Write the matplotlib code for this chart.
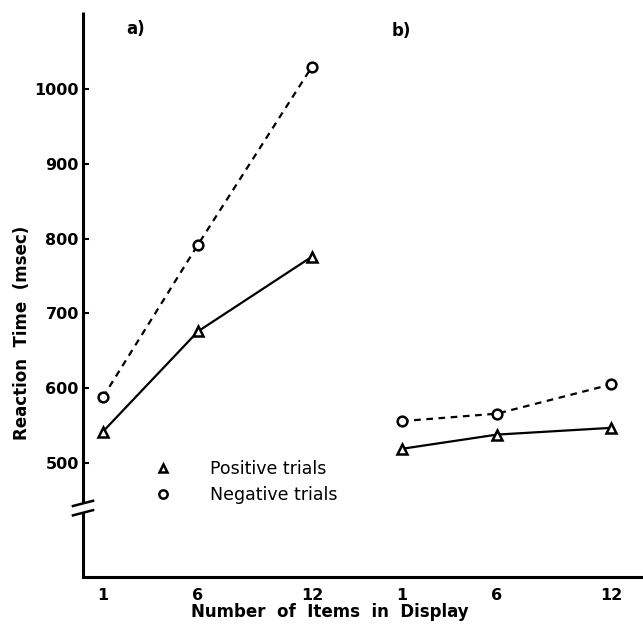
import matplotlib
matplotlib.use("Agg")
import matplotlib.pyplot as plt
from matplotlib.lines import Line2D

items = [1, 6, 12]
a_positive = [542, 676, 776]
a_negative = [588, 792, 1030]
b_positive = [519, 538, 547]
b_negative = [556, 566, 605]
yticks = [500, 600, 700, 800, 900, 1000]
panel_labels = ["a)", "b)"]
series_labels = ["Positive trials", "Negative trials"]

W, H = 643, 633
fig = plt.figure(figsize=(W / 100, H / 100), dpi=100)
plt.rcParams['font.family'] = ['DejaVu Sans']

left_px, split_px, right_px = 83, 355, 643
top_px, bot_px = 12, 577
fb = 1 - bot_px / H
ft = 1 - top_px / H
ax1 = fig.add_axes([left_px / W, fb, (split_px - left_px) / W, ft - fb])
ax2 = fig.add_axes([split_px / W, fb, (right_px - split_px) / W, ft - fb])

ylo, yhi = 347.6, 1103
for ax in (ax1, ax2):
    ax.set_ylim(ylo, yhi)
    for s in ("top", "right", "left"):
        ax.spines[s].set_visible(False)
    ax.spines["bottom"].set_linewidth(2.2)
    ax.set_xticks(items)
    ax.set_xticklabels([str(i) for i in items], fontsize=11.5, fontweight="bold")
    ax.tick_params(axis="x", length=0, pad=8)

x0a = -0.05
ax1.set_xlim(x0a, 14.26)
ax2.set_xlim(-1.47, 13.68)

# y axis with break
ax1.set_yticks(yticks)
ax1.set_yticklabels([str(v) for v in yticks], fontsize=11.5, fontweight="bold")
ax1.tick_params(axis="y", direction="in", length=4, width=1.5, pad=3)
ax2.set_yticks([])
ybreak_hi, ybreak_lo = 446, 435
ax1.plot([x0a, x0a], [ybreak_hi, yhi], color="black", lw=2.2, clip_on=False, solid_capstyle="butt")
ax1.plot([x0a, x0a], [ylo, ybreak_lo], color="black", lw=2.2, clip_on=False, solid_capstyle="butt")
dx = 0.53
ax1.plot([x0a - dx, x0a + dx], [ybreak_hi - 3.5, ybreak_hi + 3.5], color="black", lw=1.8, clip_on=False)
ax1.plot([x0a - dx, x0a + dx], [ybreak_lo - 5, ybreak_lo + 2], color="black", lw=1.8, clip_on=False)

style = dict(color="black", lw=1.6, markersize=7, markerfacecolor="white", markeredgewidth=1.8)
ax1.plot(items, a_negative, linestyle=(0, (3, 2.5)), marker="o", clip_on=False, **style)
ax1.plot(items, a_positive, linestyle="-", marker="^", clip_on=False, **style)
ax2.plot(items, b_negative, linestyle=(0, (3, 2.5)), marker="o", clip_on=False, **style)
ax2.plot(items, b_positive, linestyle="-", marker="^", clip_on=False, **style)

ax1.text(2.2, 1080, panel_labels[0], fontsize=12, fontweight="bold", va="center")
ax2.text(0.45, 1078, panel_labels[1], fontsize=12, fontweight="bold", va="center")

handles = [
    Line2D([], [], linestyle="none", marker="^", markersize=6, markerfacecolor="white",
           markeredgecolor="black", markeredgewidth=1.8),
    Line2D([], [], linestyle="none", marker="o", markersize=6, markerfacecolor="white",
           markeredgecolor="black", markeredgewidth=1.8),
]
leg = ax1.legend(handles, series_labels, loc="upper left", bbox_to_anchor=(141 / W, 1 - 451 / H),
                 bbox_transform=fig.transFigure, frameon=False,
                 prop={"size": 12.5},
                 handletextpad=2.0, labelspacing=0.5, handlelength=1.5, borderpad=0)

fig.text(330 / W, 1 - 612 / H, "Number  of  Items  in  Display", ha="center", va="center",
         fontsize=12, fontweight="bold")
fig.text(22 / W, 1 - 333 / H, "Reaction  Time  (msec)", ha="center", va="center",
         rotation=90, fontsize=12, fontweight="bold")

fig.savefig("out.png", dpi=100)
